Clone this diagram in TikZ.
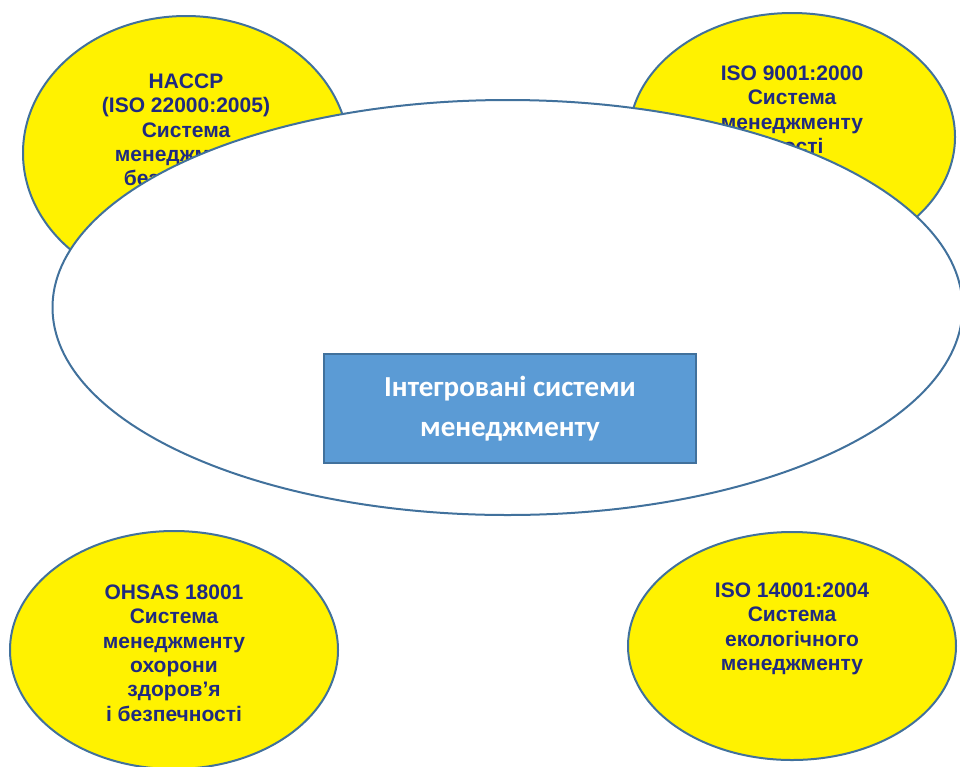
\documentclass[tikz,border=0pt]{standalone}
\usepackage{fontspec}
\setmainfont{Liberation Sans}
\newfontfamily\boxfont{Carlito}
\definecolor{ellipseline}{RGB}{65,113,156}
\definecolor{navytext}{RGB}{31,42,128}
\definecolor{boxblue}{RGB}{91,155,213}
\tikzset{
  sysname/.style={align=center, anchor=north, inner sep=0pt, text=navytext,
    font=\fontsize{21}{24.4}\selectfont\bfseries},
  imsbox/.style={draw=ellipseline, fill=boxblue, line width=2pt, inner sep=0pt,
    minimum width=372pt, minimum height=109pt, align=center, text=white,
    font=\boxfont\bfseries\fontsize{29}{40}\selectfont},
}
\begin{document}
\begin{tikzpicture}[x=1pt, y=-1pt]
\useasboundingbox (0,0) rectangle (960,766);
% four standards
\foreach \cx/\cy/\rx/\ry/\ty/\txt [count=\i] in {
  186/153/163/137/73.5/{HACCP\\(ISO 22000:2005)\\Система\\менеджменту\\безпечності},
  792/137/163/124/65.5/{ISO 9001:2000\\Система\\менеджменту\\якості},
  174/650/164/119/584.5/{OHSAS 18001\\Система\\менеджменту\\охорони\\здоров’я\\і безпечності},
  792/646/164/114/582.5/{ISO 14001:2004\\Система\\екологічного\\менеджменту}} {
 \filldraw[fill=yellow, draw=ellipseline, line width=2pt] (\cx,\cy) ellipse [x radius=\rx, y radius=\ry];
 \node[sysname] (std-\i) at (\cx,\ty) {\txt};
}
% big white ellipse
\filldraw[fill=white, draw=ellipseline, line width=2pt] (507.5,307.5) ellipse [x radius=455, y radius=207.5];
\node[imsbox] (ims) at (510,408.5) {Інтегровані системи\\менеджменту};
\end{tikzpicture}
\end{document}
